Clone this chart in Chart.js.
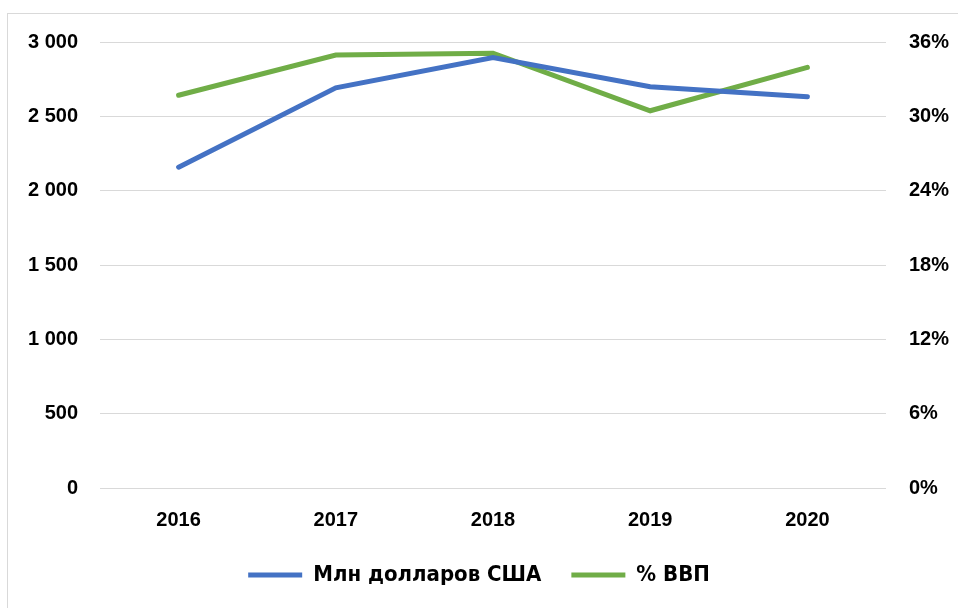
<!DOCTYPE html>
<html>
<head>
<meta charset="utf-8">
<script src="https://cdn.jsdelivr.net/npm/chart.js@4"></script>
<style>
  html, body { margin: 0; padding: 0; background: #fff; }
  #wrap { width: 958px; height: 608px; position: relative; }
</style>
</head>
<body>
<div id="wrap"><canvas id="lineChart"></canvas></div>
<script>
// Данные графика
const years = ['2016', '2017', '2018', '2019', '2020'];
const usdMln = [2158, 2692, 2895, 2699, 2631];   // Млн долларов США
const gdpShare = [31.7, 34.95, 35.1, 30.45, 33.95]; // % ВВП
const leftTicks = [0, 500, 1000, 1500, 2000, 2500, 3000];
const rightTicks = [0, 6, 12, 18, 24, 30, 36];

const tickFont = { family: "'Liberation Sans', Arial, sans-serif", size: 20, weight: 'bold' };

// рамка области диаграммы
const frame = {
    id: 'frame',
    beforeDraw(chart) {
        const c = chart.ctx;
        c.save();
        c.strokeStyle = '#d9d9d9';
        c.lineWidth = 1;
        c.strokeRect(7.5, 13.5, 1000, 1000);
        c.restore();
    }
};

const ctx = document.getElementById('lineChart').getContext('2d');
const lineChart = new Chart(ctx, {
    type: 'line',
    data: {
        labels: years,
        datasets: [{
            label: 'Млн долларов США',
            data: usdMln,
            yAxisID: 'y',
            borderColor: '#4472C4',
            backgroundColor: '#4472C4',
            borderWidth: 5,
            borderCapStyle: 'round',
            pointRadius: 0,
            tension: 0
        }, {
            label: '% ВВП',
            data: gdpShare,
            yAxisID: 'y1',
            borderColor: '#70AD47',
            backgroundColor: '#70AD47',
            borderWidth: 5,
            borderCapStyle: 'round',
            pointRadius: 0,
            tension: 0
        }]
    },
    options: {
        responsive: true,
        maintainAspectRatio: false,
        animation: false,
        layout: { padding: { top: 42, bottom: 12, left: 0, right: 0 } },
        plugins: {
            legend: {
                display: true,
                position: 'bottom',
                labels: {
                    usePointStyle: true,
                    pointStyle: 'line',
                    pointStyleWidth: 54,
                    padding: 30,
                    color: '#000',
                    font: { family: "'Liberation Sans Narrow', 'DejaVu Sans Condensed', 'Liberation Sans', sans-serif", size: 22, weight: 'bold' }
                }
            },
            tooltip: { enabled: false }
        },
        scales: {
            x: {
                offset: true,
                grid: { display: false, offset: true },
                border: { display: false },
                ticks: { color: '#000', font: tickFont, padding: 12, maxRotation: 0 },
                afterFit(s) { s.height = 46; }
            },
            y: {
                position: 'left',
                min: 0,
                max: 3000,
                afterBuildTicks(s) { s.ticks = leftTicks.map(v => ({ value: v })); },
                grid: { color: '#d9d9d9', lineWidth: 1, drawTicks: false },
                border: { display: false },
                ticks: {
                    color: '#000',
                    font: tickFont,
                    padding: 22,
                    callback: v => String(v).replace(/\B(?=(\d{3})+(?!\d))/g, ' ')
                },
                afterFit(s) { s.width = 100; }
            },
            y1: {
                position: 'right',
                min: 0,
                max: 36,
                afterBuildTicks(s) { s.ticks = rightTicks.map(v => ({ value: v })); },
                grid: { display: false },
                border: { display: false },
                ticks: { color: '#000', font: tickFont, padding: 15, callback: v => v + '%' },
                afterFit(s) { s.width = 72; }
            }
        }
    },
    plugins: [frame]
});
</script>
</body>
</html>
